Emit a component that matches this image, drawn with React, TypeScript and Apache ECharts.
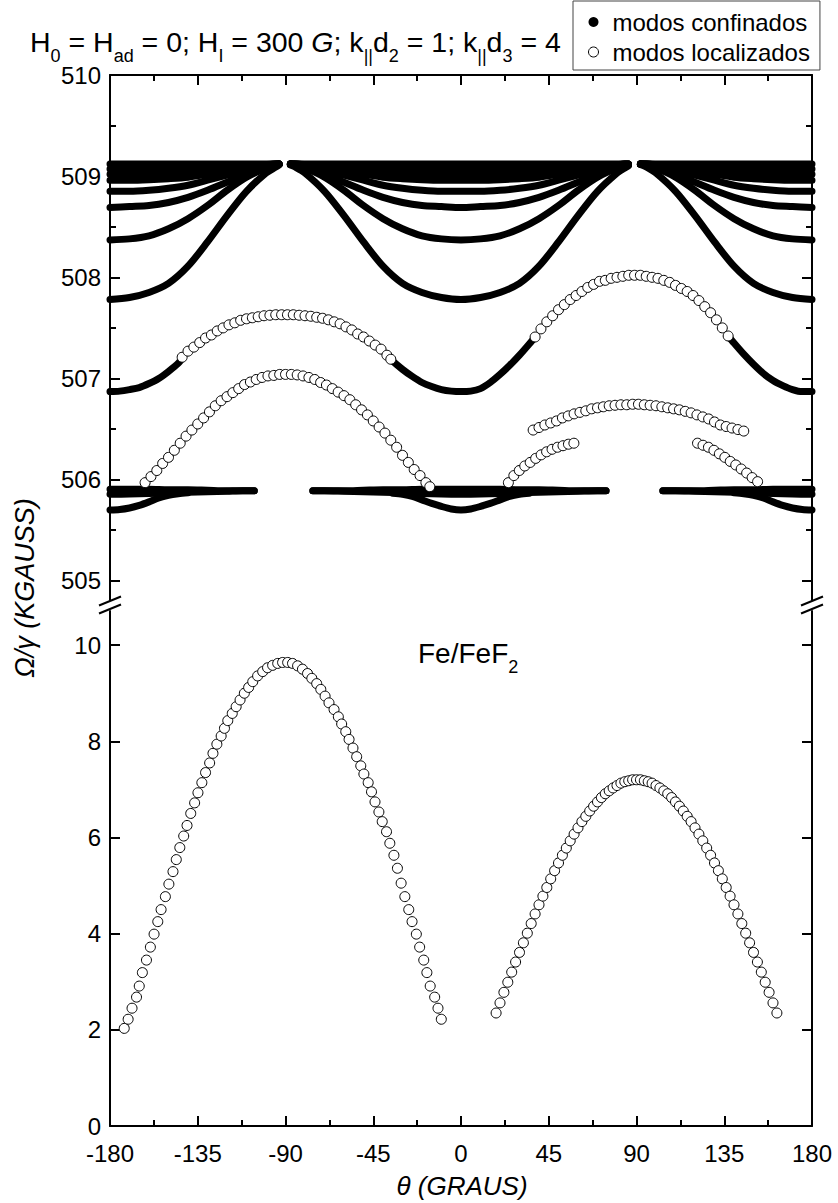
import React, { useEffect, useRef } from "react";
import * as echarts from "echarts";

const FONT = '"Liberation Sans", Arial, Helvetica, sans-serif';

// ---------- axes ----------
const Y_TOP_MAJOR = [505, 506, 507, 508, 509, 510];
const Y_TOP_MINOR = [505.5, 506.5, 507.5, 508.5, 509.5];
const Y_BOT_MAJOR = [0, 2, 4, 6, 8, 10];
const Y_TOP_RANGE = [504.81, 510];
const Y_BOT_RANGE = [0, 10.71];

// ---------- confined modes (black), upper panel ----------
const THETA_BAND = [-180,-170,-160,-150,-140,-130,-120,-110,-100,-95,-93.3,-90,-87.5,-85,-80,-70,-60,-50,-40,-30,-20,-10,0,10,20,30,40,50,60,70,80,84,85.8,89,92,95,100,110,120,130,140,150,160,170,180];
const BAND_1 = [509.12,509.12,509.12,509.12,509.12,509.12,509.12,509.12,509.12,509.12,509.12,null,509.12,509.12,509.12,509.12,509.12,509.12,509.12,509.12,509.12,509.12,509.12,509.12,509.12,509.12,509.12,509.12,509.12,509.12,509.12,509.12,509.12,null,509.12,509.12,509.12,509.12,509.12,509.12,509.12,509.12,509.12,509.12,509.12];
const BAND_2 = [509.07,509.07,509.07,509.075,509.08,509.085,509.09,509.10,509.115,509.12,509.12,null,509.12,509.12,509.115,509.10,509.09,509.085,509.08,509.075,509.07,509.07,509.07,509.07,509.07,509.075,509.08,509.085,509.09,509.10,509.115,509.12,509.12,null,509.12,509.12,509.115,509.10,509.09,509.085,509.08,509.075,509.07,509.07,509.07];
const BAND_3 = [509.02,509.02,509.025,509.03,509.04,509.05,509.07,509.09,509.11,509.12,509.12,null,509.12,509.12,509.11,509.09,509.07,509.05,509.04,509.03,509.025,509.02,509.02,509.02,509.025,509.03,509.04,509.05,509.07,509.09,509.11,509.12,509.12,null,509.12,509.12,509.11,509.09,509.07,509.05,509.04,509.03,509.025,509.02,509.02];
const BAND_4 = [508.96,508.96,508.965,508.975,508.99,509.02,509.05,509.08,509.11,509.12,509.12,null,509.12,509.12,509.11,509.08,509.05,509.02,508.99,508.975,508.965,508.96,508.96,508.96,508.965,508.975,508.99,509.02,509.05,509.08,509.11,509.12,509.12,null,509.12,509.12,509.11,509.08,509.05,509.02,508.99,508.975,508.965,508.96,508.96];
const BAND_5 = [508.85,508.85,508.86,508.88,508.91,508.96,509.01,509.06,509.10,509.115,509.12,null,509.12,509.115,509.10,509.06,509.01,508.96,508.91,508.88,508.86,508.85,508.85,508.85,508.86,508.88,508.91,508.96,509.01,509.06,509.10,509.11,509.115,null,509.12,509.115,509.10,509.06,509.01,508.96,508.91,508.88,508.86,508.85,508.85];
const BAND_6 = [508.69,508.70,508.71,508.74,508.79,508.86,508.94,509.02,509.09,509.11,509.12,null,509.12,509.11,509.09,509.02,508.94,508.86,508.79,508.74,508.71,508.70,508.69,508.70,508.71,508.74,508.79,508.86,508.94,509.02,509.09,509.11,509.115,null,509.12,509.11,509.09,509.02,508.94,508.86,508.79,508.74,508.71,508.70,508.69];
const BAND_7 = [508.37,508.38,508.41,508.48,508.58,508.71,508.86,508.99,509.08,509.105,509.115,null,509.12,509.105,509.08,508.99,508.86,508.71,508.58,508.48,508.41,508.38,508.37,508.38,508.41,508.48,508.58,508.71,508.86,508.99,509.08,509.10,509.11,null,509.12,509.105,509.08,508.99,508.86,508.71,508.58,508.48,508.41,508.38,508.37];
const BAND_8 = [507.78,507.80,507.85,507.94,508.11,508.35,508.61,508.85,509.03,509.09,509.11,null,509.11,509.09,509.03,508.85,508.61,508.35,508.11,507.94,507.85,507.80,507.78,507.80,507.85,507.94,508.11,508.35,508.61,508.85,509.03,509.08,509.10,null,509.115,509.09,509.03,508.85,508.61,508.35,508.11,507.94,507.85,507.80,507.78];

const THETA_C = [-180,-175,-170,-165,-160,-155,-150,-145,-143,-90,-37,-35,-30,-25,-20,-15,-10,-5,0,5,10,15,20,25,30,35,38,88,137,140,145,150,155,160,165,170,175,180];
const MODE_C = [506.87,506.875,506.89,506.91,506.95,507.00,507.07,507.15,507.20,null,507.20,507.17,507.09,507.02,506.96,506.92,506.89,506.875,506.87,506.875,506.90,506.96,507.04,507.13,507.23,507.34,507.41,null,507.42,507.35,507.24,507.14,507.05,506.98,506.93,506.89,506.87,506.87];

const THETA_L = [-180,-170,-160,-150,-140,-130,-120,-112,-106,-90,-76,-70,-60,-50,-40,-30,-20,-10,0,10,20,30,40,50,60,70,74.4,89,103.5,110,120,130,140,150,160,170,180];
const LOW_1 = [505.905,505.905,505.905,505.90,505.90,505.895,505.89,505.89,505.89,null,505.89,505.89,505.89,505.895,505.90,505.90,505.905,505.905,505.905,505.905,505.905,505.90,505.90,505.895,505.89,505.89,505.89,null,505.89,505.89,505.89,505.895,505.90,505.90,505.905,505.905,505.905];
const LOW_2 = [505.855,505.857,505.862,505.868,505.875,505.88,505.885,505.89,505.89,null,505.89,505.89,505.885,505.88,505.875,505.868,505.862,505.857,505.855,505.857,505.862,505.868,505.875,505.88,505.885,505.89,505.89,null,505.89,505.89,505.885,505.88,505.875,505.868,505.862,505.857,505.855];

const THETA_D = [-180,-175,-170,-165,-160,-155,-150,-145,-140,-90,-35,-30,-25,-20,-15,-10,-5,0,5,10,15,20,25,30,35,90,140,145,150,155,160,165,170,175,180];
const LOW_DIP = [505.70,505.705,505.72,505.745,505.78,505.82,505.845,505.86,505.87,null,505.865,505.855,505.835,505.80,505.765,505.735,505.71,505.70,505.71,505.735,505.765,505.80,505.835,505.855,505.865,null,505.87,505.86,505.845,505.82,505.78,505.745,505.72,505.705,505.70];

// ---------- localized modes (open circles), upper panel ----------
const ARC_A_THETA = [-143,-140,-137,-134,-131,-128,-125,-122,-119,-116,-113,-110,-107,-104,-101,-98,-95,-92,-89,-86,-83,-80,-77,-74,-71,-68,-65,-62,-59,-56,-53,-50,-47,-44,-41,-38,-36];
const ARC_A_VAL = [507.21,507.27,507.31,507.355,507.40,507.43,507.47,507.50,507.53,507.55,507.575,507.59,507.60,507.61,507.62,507.625,507.63,507.63,507.63,507.63,507.625,507.62,507.615,507.605,507.595,507.58,507.56,507.54,507.51,507.48,507.44,507.41,507.37,507.33,507.29,507.23,507.19];

const ARC_B_THETA = [38,41,44,47,50,53,56,59,62,65,68,71,74,77,80,83,86,89,92,95,98,101,104,107,110,113,116,119,122,125,128,131,134,137];
const ARC_B_VAL = [507.41,507.49,507.56,507.62,507.68,507.73,507.78,507.82,507.86,507.90,507.93,507.96,507.97,507.99,508.00,508.01,508.02,508.02,508.02,508.01,508.00,507.99,507.97,507.95,507.92,507.89,507.86,507.82,507.77,507.71,507.65,507.58,507.50,507.42];

const ARC_C_THETA = [-162,-159,-156,-153,-150,-147,-144,-141,-138,-135,-132,-129,-126,-123,-120,-117,-114,-111,-108,-105,-102,-99,-96,-93,-90,-87,-84,-81,-78,-75,-72,-69,-66,-63,-60,-57,-54,-51,-48,-45,-42,-39,-36,-33,-30,-27,-24,-21,-18,-16];
const ARC_C_VAL = [505.97,506.03,506.09,506.16,506.22,506.29,506.36,506.43,506.49,506.55,506.61,506.67,506.73,506.78,506.82,506.86,506.90,506.94,506.965,506.99,507.01,507.025,507.03,507.04,507.04,507.04,507.035,507.025,507.01,506.99,506.96,506.935,506.90,506.865,506.83,506.79,506.74,506.69,506.64,506.58,506.52,506.46,506.39,506.32,506.24,506.17,506.10,506.04,505.97,505.93];

const ARC_D_THETA = [37,40,43,46,49,52,55,58,61,64,67,70,73,76,79,82,85,88,91,94,97,100,103,106,109,112,115,118,121,124,127,130,133,136,139,142,145];
const ARC_D_VAL = [506.49,506.515,506.54,506.56,506.58,506.61,506.63,506.65,506.665,506.68,506.70,506.71,506.72,506.73,506.735,506.74,506.74,506.745,506.745,506.74,506.735,506.73,506.72,506.71,506.70,506.69,506.675,506.66,506.64,506.62,506.60,506.57,506.54,506.525,506.51,506.495,506.48];

const ARC_E_THETA = [24.3,27.1,29.9,32.7,35.5,38.3,41.1,43.9,46.7,49.5,52.3,55.1,57.9];
const ARC_E_VAL = [505.97,506.04,506.09,506.135,506.17,506.21,506.245,506.275,506.30,506.32,506.335,506.35,506.36];

const ARC_F_THETA = [121.3,124.1,126.9,129.7,132.5,135.3,138.1,140.9,143.7,146.5,149.3,152.1];
const ARC_F_VAL = [506.36,506.34,506.32,506.29,506.255,506.22,506.18,506.145,506.105,506.065,506.02,505.98];

// ---------- localized modes, lower panel ----------
const ARC_G_THETA = [-172.7,-170.7,-168.7,-166.4,-165.0,-163.4,-161.3,-159.3,-157.4,-155.5,-153.8,-151.6,-149.8,-147.7,-146.0,-144.2,-142.2,-140.5,-138.6,-136.6,-134.9,-132.9,-131.0,-128.9,-127.2,-125.2,-123.0,-121.3,-119.6,-117.3,-115.3,-113.3,-111.1,-108.9,-106.8,-104.3,-101.7,-99.2,-96.6,-94.0,-91.5,-88.9,-86.4,-83.8,-81.3,-78.7,-76.5,-74.0,-71.9,-69.7,-67.7,-65.1,-62.9,-61.2,-59.1,-57.4,-55.4,-53.5,-51.4,-49.8,-47.6,-45.9,-44.1,-42.1,-40.4,-38.2,-36.5,-34.4,-32.6,-30.7,-28.8,-26.8,-25.1,-22.9,-21.2,-19.1,-17.5,-15.8,-13.5,-11.8,-10.1];
const ARC_G_VAL = [2.03,2.22,2.45,2.68,2.91,3.19,3.45,3.72,3.99,4.25,4.50,4.77,5.03,5.29,5.54,5.79,6.03,6.25,6.50,6.72,6.93,7.14,7.35,7.55,7.75,7.94,8.11,8.27,8.43,8.58,8.72,8.86,9.00,9.12,9.24,9.36,9.45,9.53,9.58,9.62,9.64,9.64,9.62,9.57,9.50,9.41,9.31,9.20,9.08,8.94,8.80,8.66,8.51,8.36,8.20,8.04,7.86,7.68,7.49,7.32,7.14,6.95,6.74,6.53,6.33,6.12,5.88,5.63,5.36,5.05,4.77,4.50,4.25,3.99,3.72,3.45,3.19,2.91,2.68,2.45,2.22];

const ARC_H_THETA = [18,20,22,24,26,28,30,32,34,36,38,40,42,44,46,48,50,52,54,56,58,60,62,64,66,68,70,72,74,76,78,80,82,84,86,88,90,92,94,96,98,100,102,104,106,108,110,112,114,116,118,120,122,124,126,128,130,132,134,136,138,140,142,144,146,148,150,152,154,156,158,160,162];
const ARC_H_VAL = [2.35,2.56,2.78,2.99,3.20,3.41,3.61,3.81,4.01,4.21,4.41,4.60,4.78,4.96,5.14,5.31,5.47,5.63,5.78,5.93,6.07,6.20,6.33,6.44,6.55,6.65,6.74,6.83,6.91,6.97,7.03,7.08,7.13,7.16,7.18,7.20,7.20,7.20,7.18,7.16,7.13,7.08,7.03,6.97,6.91,6.83,6.74,6.65,6.55,6.44,6.33,6.20,6.07,5.93,5.78,5.63,5.47,5.31,5.14,4.96,4.78,4.60,4.41,4.21,4.01,3.81,3.61,3.41,3.20,2.99,2.78,2.56,2.35];

const CONFINED = "modos confinados";
const LOCALIZED = "modos localizados";

function pairs(xs: number[], ys: (number | null)[]) {
  return xs.map((x, i) => [x, ys[i] === null ? "-" : ys[i]]);
}

export default function App() {
  const ref = useRef<HTMLDivElement>(null);

  useEffect(() => {
    document.body.style.margin = "0";
    const chart = echarts.init(ref.current!, null, { renderer: "svg" });

    const axisLineStyle = { color: "#000", width: 2 };
    const lineSeries = (xs: number[], ys: (number | null)[]) => ({
      type: "line",
      name: CONFINED,
      xAxisIndex: 0,
      yAxisIndex: 0,
      data: pairs(xs, ys),
      symbol: "none",
      showSymbol: false,
      smooth: 0.3,
      connectNulls: false,
      clip: true,
      z: 2,
      silent: true,
      itemStyle: { color: "#000" },
      lineStyle: { color: "#000", width: 7, cap: "round", join: "round" },
    });
    const scatterSeries = (xs: number[], ys: number[], panel: number) => ({
      type: "scatter",
      name: LOCALIZED,
      xAxisIndex: panel,
      yAxisIndex: panel === 0 ? 0 : 4,
      data: pairs(xs, ys),
      symbol: "circle",
      symbolSize: 10,
      z: 3,
      silent: true,
      itemStyle: { color: "#fff", borderColor: "#000", borderWidth: 1, opacity: 1 },
    });

    const xAxisBase = (grid: number, pos: string, labels: boolean) => ({
      type: "value",
      gridIndex: grid,
      position: pos,
      min: -180,
      max: 180,
      interval: 45,
      axisLine: { show: true, onZero: false, lineStyle: axisLineStyle },
      axisTick: { show: true, inside: true, length: 10, lineStyle: axisLineStyle },
      minorTick: { show: true, splitNumber: 2, length: 6, lineStyle: axisLineStyle },
      splitLine: { show: false },
      minorSplitLine: { show: false },
      axisLabel: labels
        ? { show: true, fontSize: 24, fontFamily: FONT, color: "#000", margin: 15 }
        : { show: false },
    });

    const yAxisBase = (grid: number, pos: string, range: number[], ticks: number[], len: number, line: boolean, labels: boolean) => ({
      type: "value",
      gridIndex: grid,
      position: pos,
      min: range[0],
      max: range[1],
      axisLine: { show: line, onZero: false, lineStyle: axisLineStyle },
      axisTick: { show: true, inside: true, length: len, customValues: ticks, lineStyle: axisLineStyle },
      splitLine: { show: false },
      axisLabel: labels
        ? { show: true, customValues: ticks, fontSize: 24, fontFamily: FONT, color: "#000", margin: 9 }
        : { show: false },
    });

    const breakLines = [110, 812].flatMap((ax) => [
      { type: "line", shape: { x1: ax - 11, y1: 605.5, x2: ax + 11, y2: 596.5 }, style: { stroke: "#000", lineWidth: 2 } },
      { type: "line", shape: { x1: ax - 11, y1: 613.5, x2: ax + 11, y2: 604.5 }, style: { stroke: "#000", lineWidth: 2 } },
    ]);

    const option = {
      animation: false,
      backgroundColor: "#fff",
      grid: [
        { left: 110, top: 75, width: 702, height: 525, containLabel: false, outerBoundsMode: "none" },
        { left: 110, top: 611, width: 702, height: 515, containLabel: false, outerBoundsMode: "none" },
      ],
      xAxis: [xAxisBase(0, "top", false), xAxisBase(1, "bottom", true)],
      yAxis: [
        yAxisBase(0, "left", Y_TOP_RANGE, Y_TOP_MAJOR, 10, true, true),
        yAxisBase(0, "left", Y_TOP_RANGE, Y_TOP_MINOR, 6, false, false),
        yAxisBase(0, "right", Y_TOP_RANGE, Y_TOP_MAJOR, 10, true, false),
        yAxisBase(0, "right", Y_TOP_RANGE, Y_TOP_MINOR, 6, false, false),
        yAxisBase(1, "left", Y_BOT_RANGE, Y_BOT_MAJOR, 10, true, true),
        yAxisBase(1, "right", Y_BOT_RANGE, Y_BOT_MAJOR, 10, true, false),
      ],
      legend: {
        show: true,
        orient: "vertical",
        left: 573,
        top: 1,
        padding: [9, 10, 6, 15],
        itemGap: 6,
        itemWidth: 28,
        itemHeight: 10,
        backgroundColor: "#fff",
        borderColor: "#444",
        borderWidth: 1,
        selectedMode: false,
        textStyle: { fontSize: 24, fontFamily: FONT, color: "#000", lineHeight: 24 },
        data: [
          { name: CONFINED, icon: "circle", itemStyle: { color: "#000", borderWidth: 0 } },
          { name: LOCALIZED, icon: "circle", itemStyle: { color: "#fff", borderColor: "#000", borderWidth: 1 } },
        ],
      },
      graphic: [
        {
          type: "text",
          x: 30,
          y: 42,
          style: {
            text: "{n|H}{s|0}{n| = H}{s|ad}{n| = 0; H}{s|I}{n| = 300 }{i|G}{n|; k}{s|||}{n|d}{s|2}{n| = 1; k}{s|||}{n|d}{s|3}{n| = 4}",
            align: "left",
            verticalAlign: "middle",
            fill: "#000",
            rich: {
              n: { fontSize: 28.5, fontFamily: FONT, lineHeight: 46, verticalAlign: "middle", fill: "#000" },
              i: { fontSize: 28.5, fontFamily: FONT, fontStyle: "italic", lineHeight: 46, verticalAlign: "middle", fill: "#000" },
              s: { fontSize: 18, fontFamily: FONT, lineHeight: 20, verticalAlign: "bottom", fill: "#000" },
            },
          },
        },
        {
          type: "text",
          x: 418,
          y: 653,
          style: {
            text: "{n|Fe/FeF}{s|2}",
            align: "left",
            verticalAlign: "middle",
            fill: "#000",
            rich: {
              n: { fontSize: 28, fontFamily: FONT, lineHeight: 46, verticalAlign: "middle", fill: "#000" },
              s: { fontSize: 18, fontFamily: FONT, lineHeight: 18, verticalAlign: "bottom", fill: "#000" },
            },
          },
        },
        {
          type: "text",
          x: 25,
          y: 588,
          rotation: Math.PI / 2,
          style: {
            text: "\u03A9/\u03B3 (KGAUSS)",
            fontSize: 27,
            fontFamily: FONT,
            fontStyle: "italic",
            fill: "#000",
            align: "center",
            verticalAlign: "middle",
          },
        },
        {
          type: "text",
          x: 462,
          y: 1186,
          style: {
            text: "\u03B8 (GRAUS)",
            fontSize: 26,
            fontFamily: FONT,
            fontStyle: "italic",
            fill: "#000",
            align: "center",
            verticalAlign: "middle",
          },
        },
        ...breakLines,
      ],
      series: [
        lineSeries(THETA_BAND, BAND_1),
        lineSeries(THETA_BAND, BAND_2),
        lineSeries(THETA_BAND, BAND_3),
        lineSeries(THETA_BAND, BAND_4),
        lineSeries(THETA_BAND, BAND_5),
        lineSeries(THETA_BAND, BAND_6),
        lineSeries(THETA_BAND, BAND_7),
        lineSeries(THETA_BAND, BAND_8),
        lineSeries(THETA_C, MODE_C),
        lineSeries(THETA_L, LOW_1),
        lineSeries(THETA_L, LOW_2),
        lineSeries(THETA_D, LOW_DIP),
        scatterSeries(ARC_A_THETA, ARC_A_VAL, 0),
        scatterSeries(ARC_B_THETA, ARC_B_VAL, 0),
        scatterSeries(ARC_C_THETA, ARC_C_VAL, 0),
        scatterSeries(ARC_D_THETA, ARC_D_VAL, 0),
        scatterSeries(ARC_E_THETA, ARC_E_VAL, 0),
        scatterSeries(ARC_F_THETA, ARC_F_VAL, 0),
        scatterSeries(ARC_G_THETA, ARC_G_VAL, 1),
        scatterSeries(ARC_H_THETA, ARC_H_VAL, 1),
      ],
    };

    chart.setOption(option as any);
    return () => chart.dispose();
  }, []);

  return <div ref={ref} style={{ width: 838, height: 1203 }} />;
}
